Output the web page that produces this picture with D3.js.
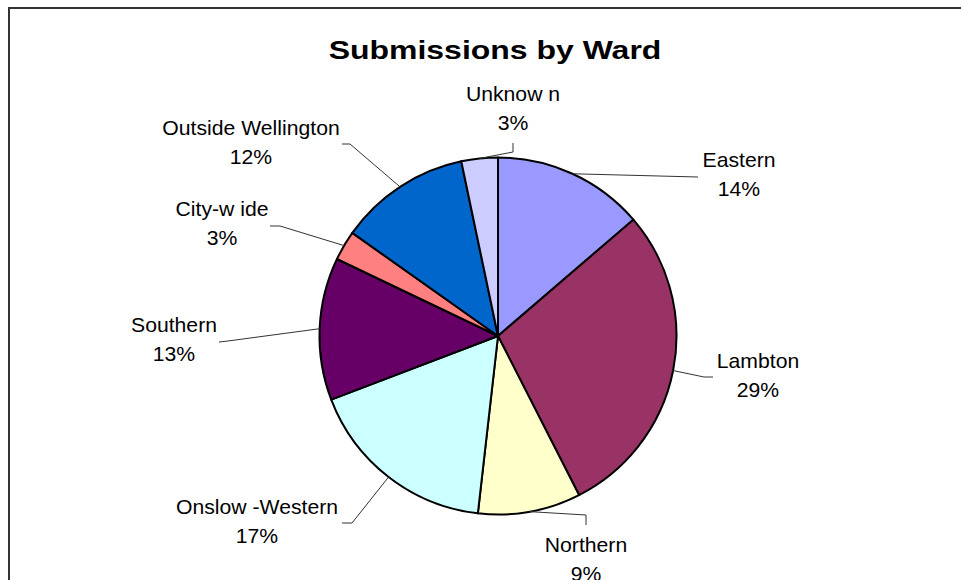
<!DOCTYPE html>
<html>
<head>
<meta charset="utf-8">
<script src="https://cdn.jsdelivr.net/npm/d3@7"></script>
<style>
  html, body { margin: 0; padding: 0; background: #fff; }
  svg { display: block; }
  text { font-family: "Liberation Sans", Arial, sans-serif; fill: #000; }
</style>
</head>
<body>
<svg id="chart" width="961" height="580"></svg>
<script>
// ---- data ----
const categories = ["Eastern", "Lambton", "Northern", "Onslow-Western", "Southern", "City-wide", "Outside Wellington", "Unknown"];
const displayNames = ["Eastern", "Lambton", "Northern", "Onslow -Western", "Southern", "City-w ide", "Outside Wellington", "Unknow n"];
const values = [13.7, 28.8, 9.3, 17.4, 12.9, 2.7, 11.9, 3.3];
const colors = ["#9999FF", "#993366", "#FFFFCC", "#CCFFFF", "#660066", "#FF8080", "#0066CC", "#CCCCFF"];
const title = "Submissions by Ward";

// ---- layout (label placement, leader elbows) ----
const layout = {
  cx: 498, cy: 336, r: 178.5,
  labels: [
    { x: 739, y: 167, pts: [[698, 177]] },
    { x: 758, y: 368, pts: [[704, 377], [713, 377]] },
    { x: 586, y: 552, pts: [[586, 515], [586, 525]] },
    { x: 257, y: 514, pts: [[352, 523], [342, 523]] },
    { x: 174, y: 332, pts: [[228, 341], [219, 342]] },
    { x: 222, y: 216, pts: [[280, 226], [270, 226]] },
    { x: 251, y: 135, pts: [[350, 144], [342, 144]] },
    { x: 513, y: 101, pts: [[513, 152], [513, 143]] }
  ],
  lineGap: 29
};

const svg = d3.select("#chart");

// frame
svg.append("rect")
  .attr("x", 9).attr("y", 8)
  .attr("width", 1000).attr("height", 700)
  .attr("fill", "#fff")
  .attr("stroke", "#333").attr("stroke-width", 2);

// title
svg.append("text")
  .attr("transform", "translate(495,59) scale(1.23,1)")
  .attr("text-anchor", "middle")
  .attr("font-size", 26)
  .attr("font-weight", "bold")
  .text(title);

const data = categories.map((c, i) => ({ name: c, label: displayNames[i], value: values[i], color: colors[i], i }));
const total = d3.sum(values);

const pie = d3.pie().sort(null).value(d => d.value).startAngle(0).endAngle(2 * Math.PI);
const arcs = pie(data);
const arc = d3.arc().innerRadius(0).outerRadius(layout.r);

const g = svg.append("g").attr("transform", `translate(${layout.cx},${layout.cy})`);

// slices
g.selectAll("path.slice")
  .data(arcs)
  .join("path")
  .attr("class", "slice")
  .attr("d", arc)
  .attr("fill", d => d.data.color)
  .attr("stroke", "#000")
  .attr("stroke-width", 2)
  .attr("stroke-linejoin", "round");

// leader lines
const lineGen = d3.line();
svg.selectAll("path.leader")
  .data(arcs)
  .join("path")
  .attr("class", "leader")
  .attr("d", d => {
    const mid = (d.startAngle + d.endAngle) / 2;
    const sx = layout.cx + layout.r * Math.sin(mid);
    const sy = layout.cy - layout.r * Math.cos(mid);
    return lineGen([[sx, sy], ...layout.labels[d.data.i].pts]);
  })
  .attr("fill", "none")
  .attr("stroke", "#333")
  .attr("stroke-width", 1);

// labels
const lab = svg.selectAll("g.label")
  .data(arcs)
  .join("g")
  .attr("class", "label");

lab.append("text")
  .attr("transform", d => `translate(${layout.labels[d.data.i].x},${layout.labels[d.data.i].y}) scale(1.06,1)`)
  .attr("text-anchor", "middle")
  .attr("font-size", 20)
  .text(d => d.data.label);

lab.append("text")
  .attr("transform", d => `translate(${layout.labels[d.data.i].x},${layout.labels[d.data.i].y + layout.lineGap}) scale(1.06,1)`)
  .attr("text-anchor", "middle")
  .attr("font-size", 20)
  .text(d => Math.round(d.data.value / total * 100) + "%");
</script>
</body>
</html>
